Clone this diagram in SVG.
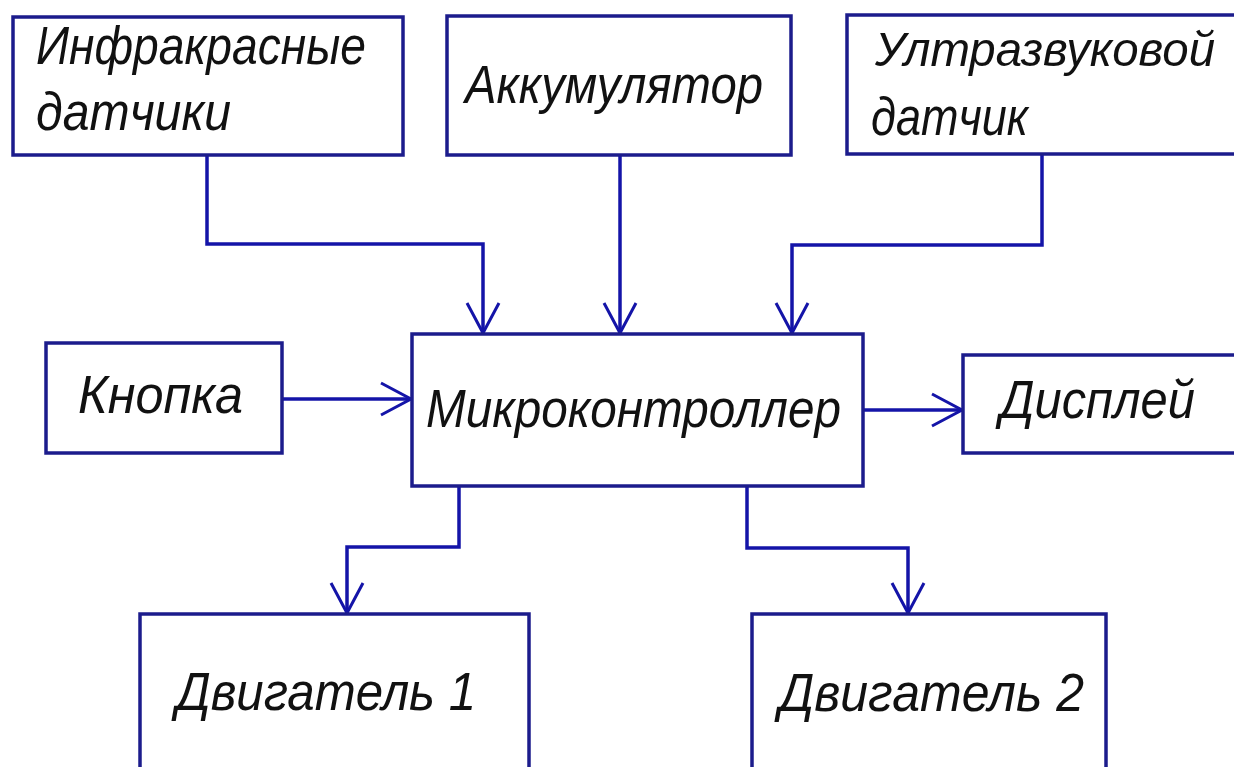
<svg xmlns="http://www.w3.org/2000/svg" width="1234" height="767" viewBox="0 0 1234 767">
<defs>
<style>
.box{fill:#ffffff;stroke:#1c1c8c;stroke-width:3.5}
.conn{fill:none;stroke:#1414a8;stroke-width:3.5}
.lbl{font-family:"Liberation Sans",Arial,sans-serif;font-style:italic;font-size:54px;fill:#111111}
</style>
<marker id="arr" markerUnits="userSpaceOnUse" markerWidth="40" markerHeight="40" viewBox="-34 -20 40 40" refX="0" refY="0" orient="auto">
<path d="M-30,-16 L0,0 L-30,16" fill="none" stroke="#1414a8" stroke-width="3"/>
</marker>
</defs>
<rect width="1234" height="767" fill="#ffffff"/>
<g id="connectors">
<path class="conn" d="M207,155 V244 H483 V333" marker-end="url(#arr)"/>
<path class="conn" d="M620,155 V333" marker-end="url(#arr)"/>
<path class="conn" d="M1042,154 V245 H792 V333" marker-end="url(#arr)"/>
<path class="conn" d="M282,399 H411" marker-end="url(#arr)"/>
<path class="conn" d="M863,410 H962" marker-end="url(#arr)"/>
<path class="conn" d="M459,486 V547 H347 V613" marker-end="url(#arr)"/>
<path class="conn" d="M747,486 V548 H908 V613" marker-end="url(#arr)"/>
</g>
<g id="ir">
<rect class="box" x="13" y="17" width="390" height="138"/>
<text class="lbl" x="36" y="64" textLength="330" lengthAdjust="spacingAndGlyphs">Инфракрасные</text>
<text class="lbl" x="36" y="130" textLength="195" lengthAdjust="spacingAndGlyphs">датчики</text>
</g>
<g id="battery">
<rect class="box" x="447" y="16" width="344" height="139"/>
<text class="lbl" x="465" y="103" textLength="298" lengthAdjust="spacingAndGlyphs">Аккумулятор</text>
</g>
<g id="ultrasonic">
<rect class="box" x="847" y="15" width="393" height="139"/>
<text class="lbl" x="875" y="66" font-size="49" textLength="340" lengthAdjust="spacingAndGlyphs" style="font-size:49px">Ултразвуковой</text>
<text class="lbl" x="871" y="135" textLength="157" lengthAdjust="spacingAndGlyphs">датчик</text>
</g>
<g id="button">
<rect class="box" x="46" y="343" width="236" height="110"/>
<text class="lbl" x="78" y="413" textLength="165" lengthAdjust="spacingAndGlyphs">Кнопка</text>
</g>
<g id="mcu">
<rect class="box" x="412" y="334" width="451" height="152"/>
<text class="lbl" x="426" y="427" textLength="415" lengthAdjust="spacingAndGlyphs">Микроконтроллер</text>
</g>
<g id="display">
<rect class="box" x="963" y="355" width="277" height="98"/>
<text class="lbl" x="1000" y="418" textLength="195" lengthAdjust="spacingAndGlyphs">Дисплей</text>
</g>
<g id="motor1">
<rect class="box" x="140" y="614" width="389" height="160"/>
<text class="lbl" x="176" y="710" textLength="300" lengthAdjust="spacingAndGlyphs">Двигатель 1</text>
</g>
<g id="motor2">
<rect class="box" x="752" y="614" width="354" height="160"/>
<text class="lbl" x="779" y="711" textLength="305" lengthAdjust="spacingAndGlyphs">Двигатель 2</text>
</g>
</svg>
